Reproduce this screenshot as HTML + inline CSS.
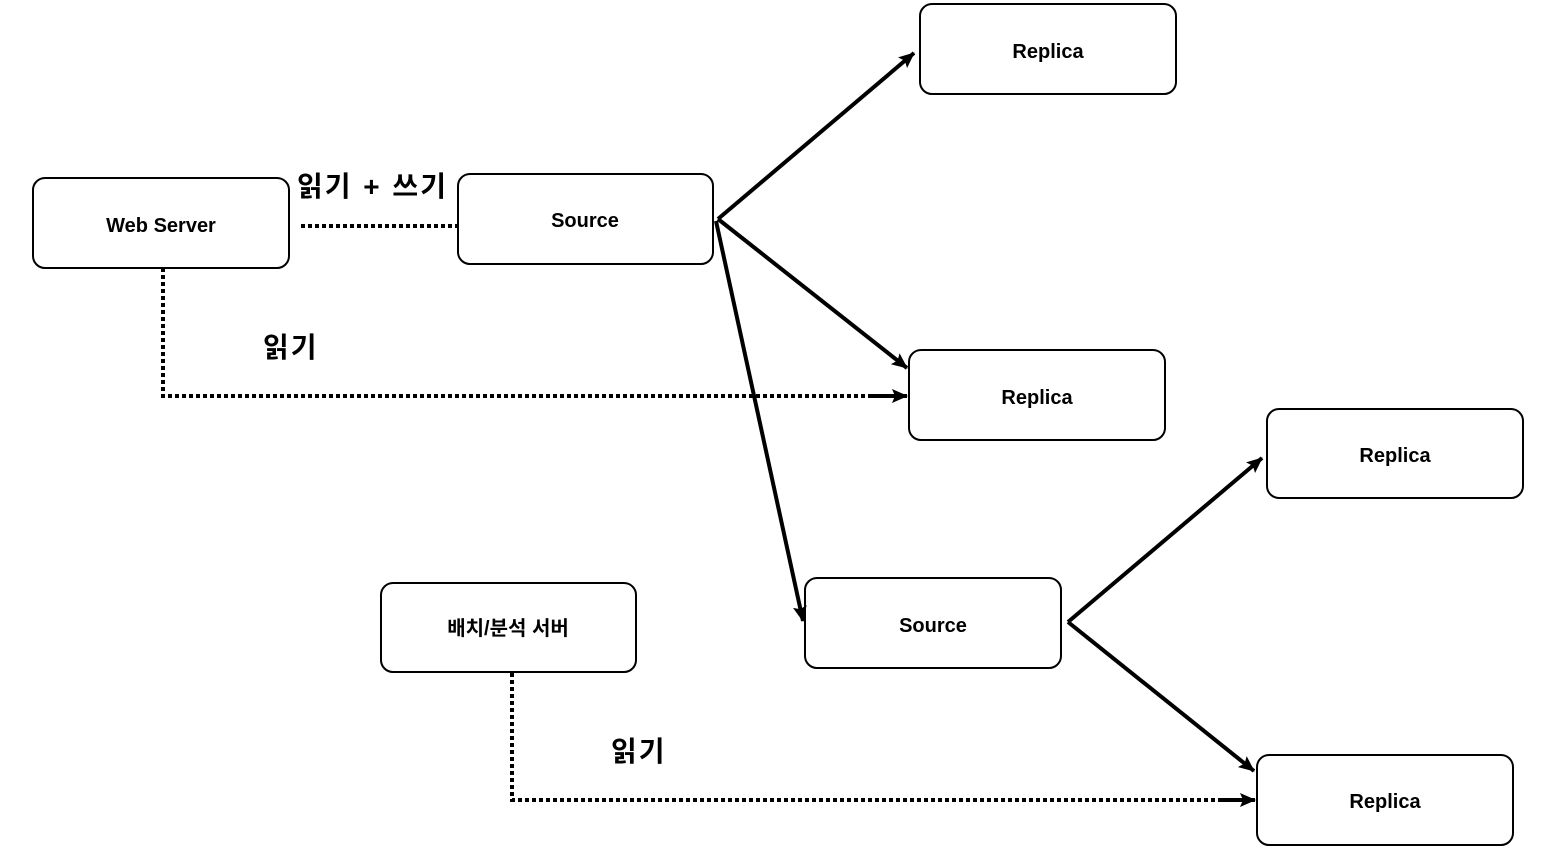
<!DOCTYPE html>
<html><head><meta charset="utf-8"><style>
html,body{margin:0;padding:0;background:#fff;}
svg{display:block;}
text{font-family:"Liberation Sans","Noto Sans CJK KR",sans-serif;font-weight:bold;fill:#000;}
</style></head><body>
<svg width="1549" height="856" viewBox="0 0 1549 856" xmlns="http://www.w3.org/2000/svg">
<defs>
<marker id="b" markerWidth="16" markerHeight="14" refX="15" refY="7" orient="auto" markerUnits="userSpaceOnUse">
<path d="M0,0 L16,7 L0,14 L3,7 Z" fill="#000"/>
</marker>
</defs>
<g fill="#fff" stroke="#000" stroke-width="2">
<rect x="33" y="178" width="256" height="90" rx="12"/>
<rect x="458" y="174" width="255" height="90" rx="12"/>
<rect x="920" y="4" width="256" height="90" rx="12"/>
<rect x="909" y="350" width="256" height="90" rx="12"/>
<rect x="1267" y="409" width="256" height="89" rx="12"/>
<rect x="805" y="578" width="256" height="90" rx="12"/>
<rect x="381" y="583" width="255" height="89" rx="12"/>
<rect x="1257" y="755" width="256" height="90" rx="12"/>
</g>
<g stroke="#000" stroke-width="4" fill="none">
<line x1="718" y1="219" x2="914" y2="53" marker-end="url(#b)"/>
<line x1="718" y1="219" x2="907" y2="368" marker-end="url(#b)"/>
<line x1="716" y1="221" x2="803" y2="621" marker-end="url(#b)"/>
<line x1="1068" y1="622" x2="1262" y2="458" marker-end="url(#b)"/>
<line x1="1068" y1="622" x2="1254" y2="771" marker-end="url(#b)"/>
</g>
<g stroke="#000" stroke-width="4" fill="none" stroke-dasharray="4 3">
<line x1="301" y1="226" x2="458" y2="226"/>
<polyline points="163,268 163,396 870,396"/>
<polyline points="512,673 512,800 1218,800"/>
</g>
<g stroke="#000" stroke-width="4">
<line x1="870" y1="396" x2="907" y2="396" marker-end="url(#b)"/>
<line x1="1218" y1="800" x2="1255" y2="800" marker-end="url(#b)"/>
</g>
<g font-size="20" text-anchor="middle">
<text x="161" y="232">Web Server</text>
<text x="585" y="227">Source</text>
<text x="1048" y="58">Replica</text>
<text x="1037" y="404">Replica</text>
<text x="1395" y="462">Replica</text>
<text x="933" y="632">Source</text>
<text x="508" y="635">배치/분석 서버</text>
<text x="1385" y="808">Replica</text>
</g>
<g font-size="28">
<text x="297" y="196" letter-spacing="2" word-spacing="1">읽기 + 쓰기</text>
<text x="263" y="357" letter-spacing="2">읽기</text>
<text x="611" y="761" letter-spacing="2">읽기</text>
</g>
</svg>
</body></html>
